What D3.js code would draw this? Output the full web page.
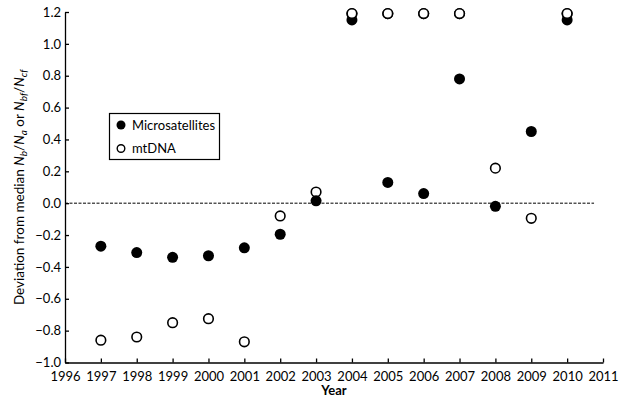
<!DOCTYPE html>
<html><head><meta charset="utf-8">
<script src="https://cdn.jsdelivr.net/npm/d3@7"></script>
<style>body{margin:0;background:#fff}svg{display:block}text{font-family:Lato,"Open Sans",sans-serif}</style>
</head><body><svg id="c" width="628" height="400"></svg>
<script>
const years = [1997,1998,1999,2000,2001,2002,2003,2004,2005,2006,2007,2008,2009,2010];
const microsatellites = [-0.27,-0.31,-0.34,-0.33,-0.28,-0.195,0.015,1.15,0.13,0.06,0.78,-0.02,0.45,1.15];
const mtDNA = [-0.86,-0.84,-0.75,-0.725,-0.87,-0.08,0.07,1.19,1.19,1.19,1.19,0.22,-0.095,1.19];
const xTicks = d3.range(1996,2012);
const yTicks = [-1.0,-0.8,-0.6,-0.4,-0.2,0.0,0.2,0.4,0.6,0.8,1.0,1.2];

const svg = d3.select("#c");
const x = d3.scaleLinear().domain([1996,2011]).range([65,603]);
const y = d3.scaleLinear().domain([-1.0,1.2]).range([362.5,12]);

const fmt = d => (d<0?"\u2212":"") + Math.abs(d).toFixed(1);

const gx = svg.append("g").attr("transform",`translate(0,${y(-1.0)})`)
  .call(d3.axisBottom(x).tickValues(xTicks).tickFormat(d3.format("d")).tickSizeInner(-4).tickSizeOuter(0).tickPadding(9));
const gy = svg.append("g").attr("transform",`translate(${x(1996)},0)`)
  .call(d3.axisLeft(y).tickValues(yTicks).tickFormat(fmt).tickSizeInner(-4).tickSizeOuter(0).tickPadding(4));
[gx,gy].forEach(g=>{
  g.selectAll("path,line").attr("stroke","#000").attr("stroke-width",1.3);
  g.selectAll("text").attr("font-size",13).attr("fill","#000").style("font-family","Lato,'Open Sans',sans-serif");
});

// zero line
svg.append("line").attr("x1",x(1996)).attr("x2",x(2010.75)).attr("y1",y(0)).attr("y2",y(0))
  .attr("stroke","#000").attr("stroke-width",1).attr("stroke-dasharray","3,1.5");

// points
svg.append("g").selectAll("circle").data(years.map((d,i)=>[d,mtDNA[i]])).join("circle")
  .attr("cx",d=>x(d[0])).attr("cy",d=>y(d[1])).attr("r",4.8)
  .attr("fill","#fff").attr("stroke","#000").attr("stroke-width",1.6);
svg.append("g").selectAll("circle").data(years.map((d,i)=>[d,microsatellites[i]])).join("circle")
  .attr("cx",d=>x(d[0])).attr("cy",d=>y(d[1])).attr("r",5.5).attr("fill","#000");

// open circles at the top are drawn over the filled ones in the reference
svg.append("g").selectAll("circle").data(years.map((d,i)=>[d,mtDNA[i]]).filter(d=>d[1]>1.1)).join("circle")
  .attr("cx",d=>x(d[0])).attr("cy",d=>y(d[1])).attr("r",4.8)
  .attr("fill","#fff").attr("stroke","#000").attr("stroke-width",1.6);

// axis titles
svg.append("text").attr("x",(x(1996)+x(2011))/2).attr("y",395).attr("text-anchor","middle")
  .attr("font-size",13).attr("font-weight","bold").text("Year");

const yt = svg.append("text").attr("transform",`translate(24,${(y(-1)+y(1.2))/2}) rotate(-90)`)
  .attr("text-anchor","middle").attr("font-size",13.5);
yt.append("tspan").text("Deviation from median ");
yt.append("tspan").attr("font-style","italic").text("N");
yt.append("tspan").attr("font-style","italic").attr("font-size",10).attr("dy",3).text("b");
yt.append("tspan").attr("dy",-3).text("/");
yt.append("tspan").attr("font-style","italic").text("N");
yt.append("tspan").attr("font-style","italic").attr("font-size",10).attr("dy",3).text("a");
yt.append("tspan").attr("dy",-3).text(" or ");
yt.append("tspan").attr("font-style","italic").text("N");
yt.append("tspan").attr("font-style","italic").attr("font-size",10).attr("dy",3).text("bf");
yt.append("tspan").attr("dy",-3).text("/");
yt.append("tspan").attr("font-style","italic").text("N");
yt.append("tspan").attr("font-style","italic").attr("font-size",10).attr("dy",3).text("cf");

// legend
const lg = svg.append("g");
lg.append("rect").attr("x",109.5).attr("y",113.5).attr("width",110).attr("height",46)
  .attr("fill","#fff").attr("stroke","#000").attr("stroke-width",1.2);
lg.append("circle").attr("cx",121).attr("cy",125).attr("r",4.5).attr("fill","#000");
lg.append("circle").attr("cx",121).attr("cy",148.5).attr("r",3.8).attr("fill","#fff").attr("stroke","#000").attr("stroke-width",1.4);
lg.append("text").attr("x",132).attr("y",125).attr("dy","0.35em").attr("font-size",13).text("Microsatellites");
lg.append("text").attr("x",132).attr("y",148.5).attr("dy","0.35em").attr("font-size",13).text("mtDNA");
</script></body></html>
